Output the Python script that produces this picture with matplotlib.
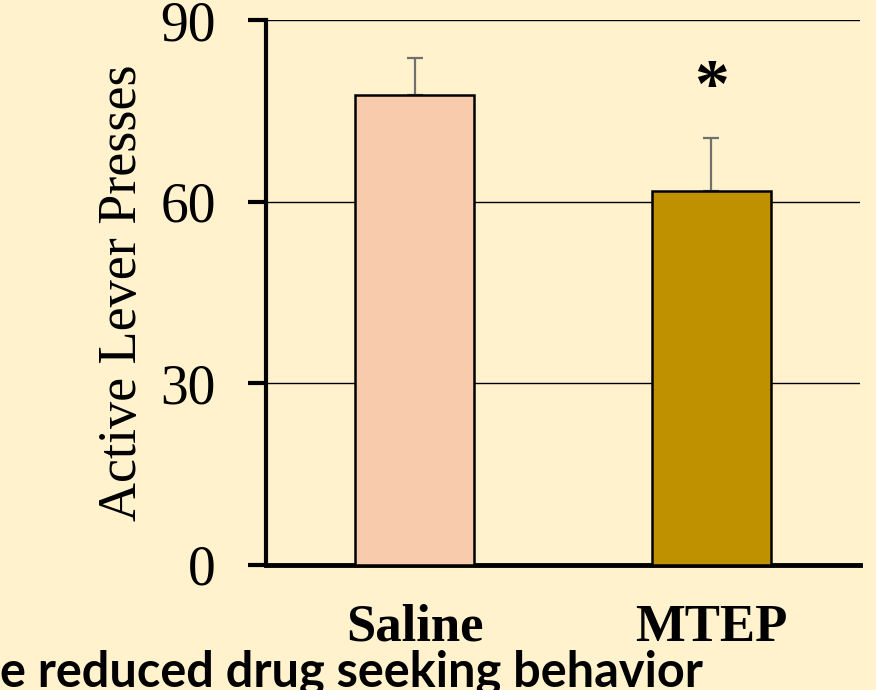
import numpy as np
import matplotlib.pyplot as plt

# %%
groups = ['Saline', 'MTEP']
presses = [77.6, 61.8]
sem = [6.2, 8.7]
bar_colors = ['#F8CBAD', '#BF9000']
yticks = [0, 30, 60, 90]

# %%
bg = '#FFF2CC'
fig = plt.figure(figsize=(8.76, 6.9), dpi=100, facecolor=bg)
ax = fig.add_axes([0.3037, 0.1812, 0.678, 0.7898], facecolor=bg)

x = np.array([0.5, 1.5])
ax.bar(x, presses, width=0.4, color=bar_colors, edgecolor='black', linewidth=1.8, zorder=3)
ax.errorbar(x, presses, yerr=[[0, 0], sem], fmt='none', ecolor='#707070',
            elinewidth=1.6, capsize=6, capthick=1.6, zorder=2)

ax.set_xlim(0, 2)
ax.set_ylim(0, 90)
ax.set_yticks(yticks)
ax.set_yticklabels([str(t) for t in yticks], fontfamily='Liberation Serif', fontsize=40)
ax.set_xticks(x)
ax.set_xticklabels(groups, fontfamily='Liberation Serif', fontweight='bold', fontsize=38)
ax.tick_params(axis='x', length=0, pad=28)
ax.tick_params(axis='y', length=13, width=3, pad=23, direction='out')

ax.yaxis.grid(True, color='black', linewidth=1.0)
ax.set_axisbelow(True)
for s in ['top', 'right']:
    ax.spines[s].set_visible(False)
ax.spines['left'].set_linewidth(3)
ax.spines['bottom'].set_linewidth(3.5)

ax.set_ylabel('Active Lever Presses', fontfamily='Liberation Serif', fontsize=39, labelpad=9)

ax.text(x[1], 78.5, '*', ha='center', va='center', fontsize=50,
        fontfamily='Liberation Serif', fontweight='bold')

fig.text(0.0, 0.005, 'e reduced drug seeking behavior', ha='left', va='baseline',
         fontfamily='Lato', fontweight='bold', fontsize=35)

plt.savefig('out.png', dpi=100, facecolor=bg)
